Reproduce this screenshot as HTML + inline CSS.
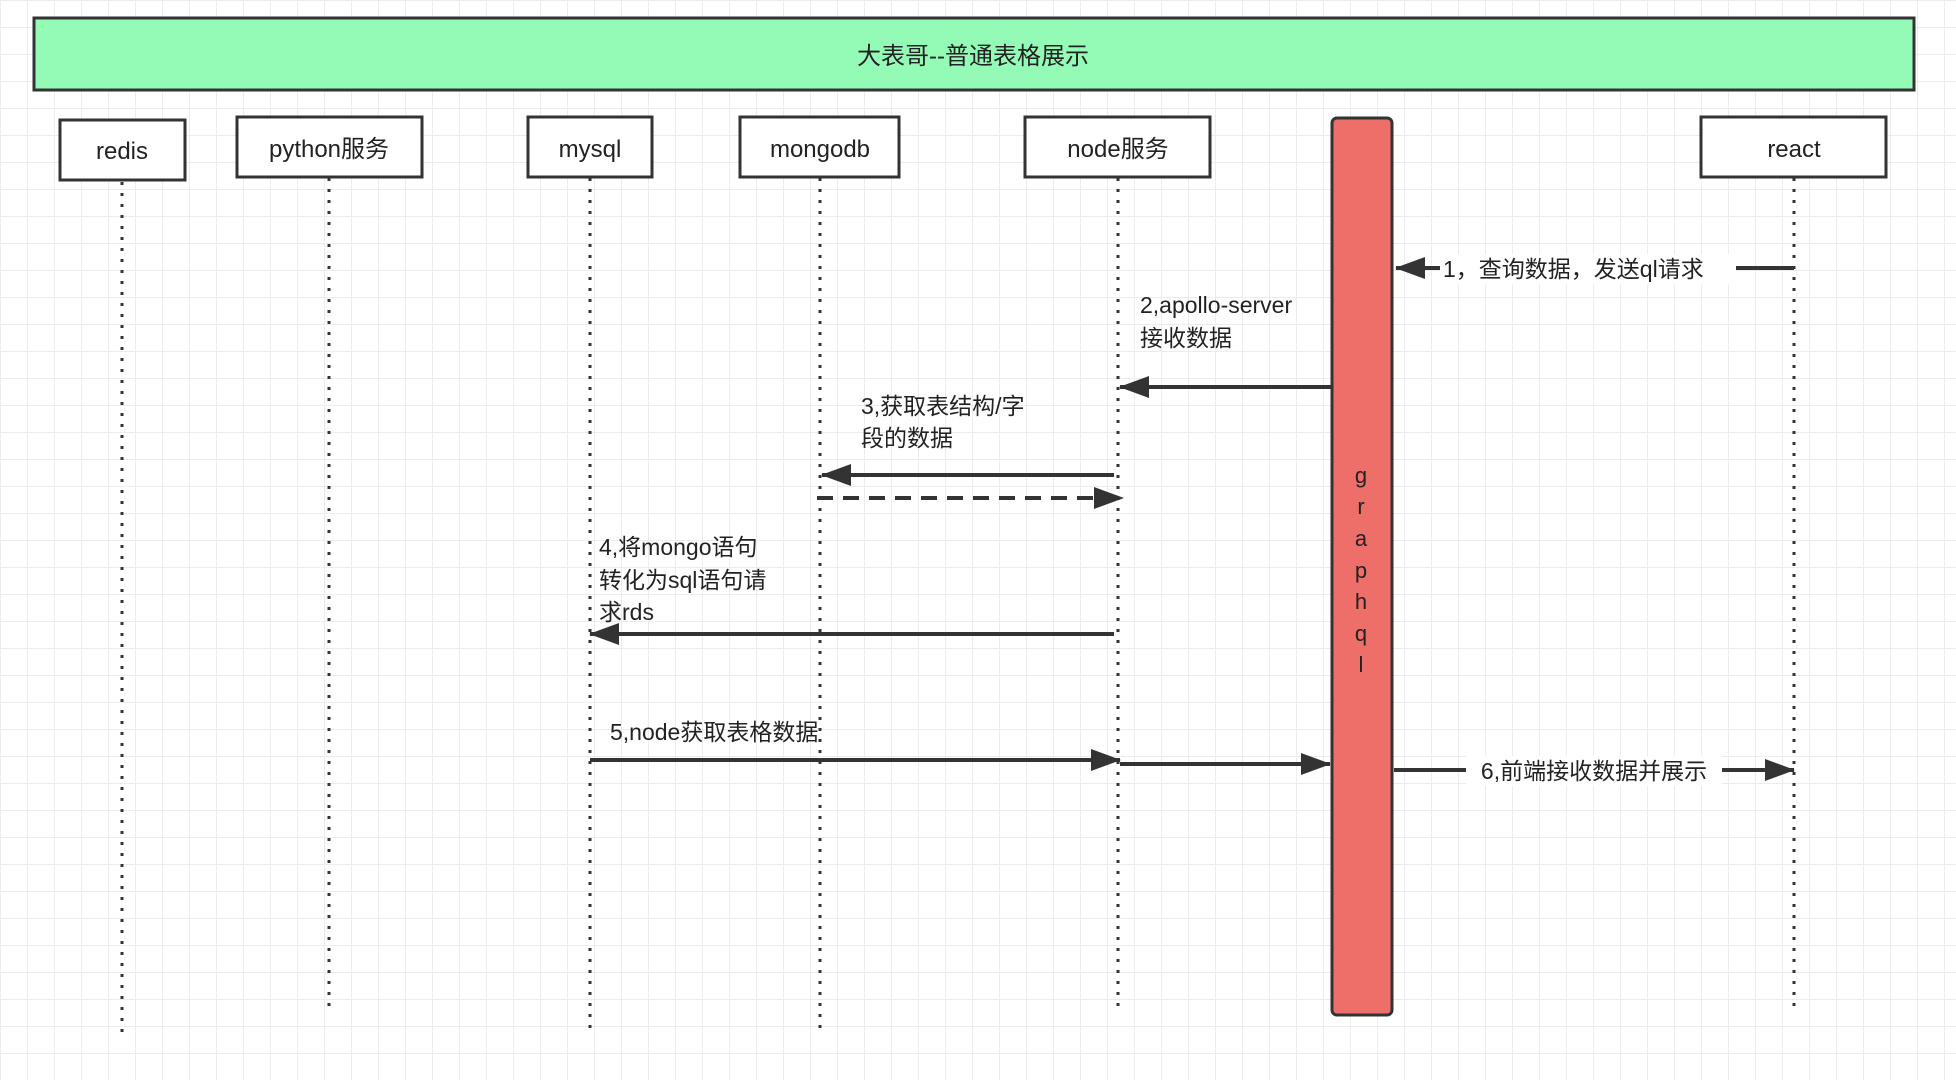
<!DOCTYPE html>
<html><head><meta charset="utf-8"><style>
html,body{margin:0;padding:0;}
body{width:1956px;height:1080px;overflow:hidden;background:#fff;
background-image:linear-gradient(#ececec 1px,transparent 1px),linear-gradient(90deg,#ececec 1px,transparent 1px);
background-size:27px 27px;}
svg{position:absolute;left:0;top:0;}
text{font-family:"Liberation Sans","Noto Sans CJK SC",sans-serif;fill:#222;}
</style></head><body>
<svg width="1956" height="1080" viewBox="0 0 1956 1080">
<defs>
<marker id="ah" markerWidth="12" markerHeight="10" refX="11" refY="5" orient="auto" markerUnits="userSpaceOnUse" viewBox="0 0 12 10">
<path d="M0,0 L12,5 L0,10 Z" fill="#333"/></marker>
<marker id="ahb" markerWidth="30" markerHeight="22" refX="29" refY="11" orient="auto" markerUnits="userSpaceOnUse" viewBox="0 0 30 22">
<path d="M0,0 L30,11 L0,22 Z" fill="#333"/></marker>
</defs>
<rect x="34" y="18" width="1880" height="72" fill="#94fbb7" stroke="#333" stroke-width="3"/>
<text x="973" y="64" font-size="24" text-anchor="middle">大表哥--普通表格展示</text>

<g stroke="#333" stroke-width="3" stroke-dasharray="3,8" fill="none">
<line x1="122" y1="182" x2="122" y2="1033"/>
<line x1="329" y1="178" x2="329" y2="1010"/>
<line x1="590" y1="178" x2="590" y2="1033"/>
<line x1="820" y1="178" x2="820" y2="1033"/>
<line x1="1118" y1="178" x2="1118" y2="1010"/>
<line x1="1794" y1="178" x2="1794" y2="1010"/>
</g>

<g fill="#fff" stroke="#333" stroke-width="3">
<rect x="60" y="120" width="125" height="60"/>
<rect x="237" y="117" width="185" height="60"/>
<rect x="528" y="117" width="124" height="60"/>
<rect x="740" y="117" width="159" height="60"/>
<rect x="1025" y="117" width="185" height="60"/>
<rect x="1701" y="117" width="185" height="60"/>
</g>
<g font-size="24" text-anchor="middle">
<text x="122" y="159">redis</text>
<text x="329" y="157">python服务</text>
<text x="590" y="157">mysql</text>
<text x="820" y="157">mongodb</text>
<text x="1118" y="157">node服务</text>
<text x="1794" y="157">react</text>
</g>

<rect x="1332" y="118" width="60" height="897" rx="5" fill="#ee6f6a" stroke="#333" stroke-width="3"/>
<g font-size="22" text-anchor="middle">
<text x="1361" y="483">g</text><text x="1361" y="514">r</text><text x="1361" y="546">a</text>
<text x="1361" y="578">p</text><text x="1361" y="609">h</text><text x="1361" y="641">q</text><text x="1361" y="672">l</text>
</g>

<g stroke="#333" stroke-width="4" fill="none">
<line x1="1794" y1="268" x2="1396" y2="268" marker-end="url(#ahb)"/>
<line x1="1332" y1="387" x2="1120" y2="387" marker-end="url(#ahb)"/>
<line x1="1114" y1="475" x2="822" y2="475" marker-end="url(#ahb)"/>
<line x1="817" y1="498" x2="1123" y2="498" stroke-dasharray="16,10" marker-end="url(#ahb)"/>
<line x1="1114" y1="634" x2="590" y2="634" marker-end="url(#ahb)"/>
<line x1="590" y1="760" x2="1120" y2="760" marker-end="url(#ahb)"/>
<line x1="1120" y1="764" x2="1330" y2="764" marker-end="url(#ahb)"/>
<line x1="1394" y1="770" x2="1794" y2="770" marker-end="url(#ahb)"/>
</g>
<rect x="1440" y="254" width="296" height="30" fill="#fff"/>
<rect x="1466" y="756" width="256" height="30" fill="#fff"/>
<g font-size="23">
<text x="1443" y="277">1，查询数据，发送ql请求</text>
<text x="1140" y="313">2,apollo-server</text>
<text x="1140" y="346">接收数据</text>
<text x="861" y="414">3,获取表结构/字</text>
<text x="861" y="446">段的数据</text>
<text x="599" y="555">4,将mongo语句</text>
<text x="599" y="588">转化为sql语句请</text>
<text x="599" y="620">求rds</text>
<text x="610" y="740">5,node获取表格数据</text>
<text x="1594" y="779" text-anchor="middle">6,前端接收数据并展示</text>
</g>
</svg>
</body></html>
